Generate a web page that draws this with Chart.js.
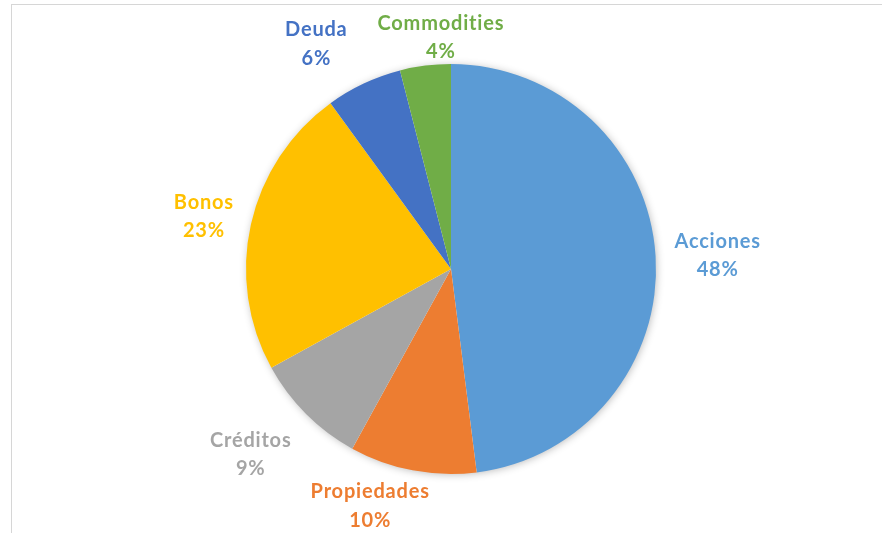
<!DOCTYPE html>
<html>
<head>
<meta charset="utf-8">
<script src="https://cdn.jsdelivr.net/npm/chart.js@4"></script>
<style>
  body { margin: 0; background: #fff; }
  #wrap { position: relative; width: 882px; height: 533px; }
  #frame { position: absolute; left: 11px; top: 4px; right: 0; bottom: 0;
           border-left: 1px solid #d6d6d6; border-top: 1px solid #d6d6d6; pointer-events: none; }
</style>
</head>
<body>
<div id="wrap">
  <canvas id="pieChart"></canvas>
  <div id="frame"></div>
</div>
<script>
// ===== Data =====
const categories = ["Acciones", "Propiedades", "Créditos", "Bonos", "Deuda", "Commodities"];
const shares = [48, 10, 9, 23, 6, 4];
const sliceColors = ["#5B9BD5", "#ED7D31", "#A5A5A5", "#FFC000", "#4472C4", "#70AD47"];

// soft shadow behind the whole pie
const pieShadow = {
  id: "pieShadow",
  beforeDatasetsDraw(chart) {
    const arc = chart.getDatasetMeta(0).data[0];
    if (!arc) return;
    const ctx = chart.ctx;
    ctx.save();
    ctx.shadowColor = "rgba(0,0,0,0.30)";
    ctx.shadowBlur = 9;
    ctx.shadowOffsetX = 1;
    ctx.shadowOffsetY = 1;
    ctx.fillStyle = "#fff";
    ctx.beginPath();
    ctx.arc(arc.x, arc.y, arc.outerRadius - 1, 0, Math.PI * 2);
    ctx.fill();
    ctx.restore();
  }
};

// outside labels: name + percentage, in slice colour
const outsideLabels = {
  id: "outsideLabels",
  afterDatasetsDraw(chart, args, opts) {
    const ctx = chart.ctx;
    const ds = chart.data.datasets[0];
    const total = ds.data.reduce((a, b) => a + b, 0);
    ctx.save();
    ctx.font = opts.font;
    ctx.letterSpacing = opts.letterSpacing;
    ctx.textAlign = "center";
    ctx.textBaseline = "middle";
    chart.getDatasetMeta(0).data.forEach((arc, i) => {
      const mid = (arc.startAngle + arc.endAngle) / 2;
      const dx = Math.cos(mid), dy = Math.sin(mid);
      const name = chart.data.labels[i];
      const pct = Math.round(ds.data[i] / total * 100) + "%";
      const w = Math.max(ctx.measureText(name).width, ctx.measureText(pct).width);
      const h = opts.lineHeight * 2;
      const px = arc.x + (arc.outerRadius + opts.gap) * dx;
      const py = arc.y + (arc.outerRadius + opts.gap) * dy;
      const nudge = opts.nudge[i] || [0, 0];
      const cx = px + dx * w / 2 + nudge[0];
      const cy = py + dy * h / 2 + nudge[1];
      ctx.fillStyle = ds.backgroundColor[i];
      ctx.fillText(name, cx, cy - opts.lineHeight / 2);
      ctx.fillText(pct, cx, cy + opts.lineHeight / 2);
    });
    ctx.restore();
  }
};

new Chart(document.getElementById("pieChart"), {
  type: "pie",
  data: {
    labels: categories,
    datasets: [{
      data: shares,
      backgroundColor: sliceColors,
      borderWidth: 0
    }]
  },
  options: {
    responsive: true,
    maintainAspectRatio: false,
    animation: false,
    layout: { padding: { left: 246, right: 226, top: 64, bottom: 59 } },
    plugins: {
      legend: { display: false },
      tooltip: { enabled: false },
      outsideLabels: {
        font: "bold 20px Lato",
        letterSpacing: "0.8px",
        lineHeight: 28.5,
        gap: 12,
        nudge: [[7, 2], [-29, -4], [-18, 12], [-6, 1], [-29, -3], [25, 12]]
      }
    }
  },
  plugins: [pieShadow, outsideLabels]
});
</script>
</body>
</html>
